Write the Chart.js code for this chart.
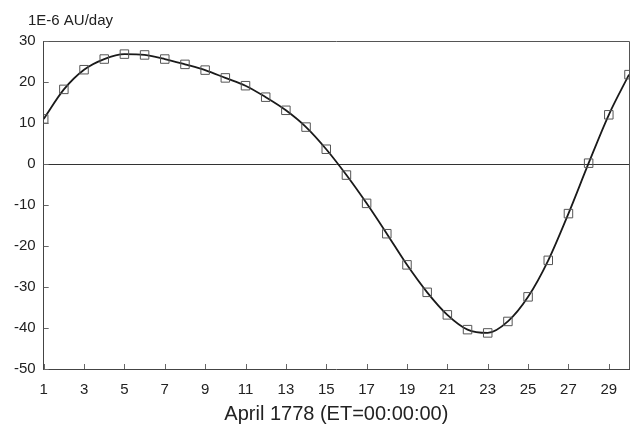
<!DOCTYPE html>
<html>
<head>
<meta charset="utf-8">
<script src="https://cdn.jsdelivr.net/npm/chart.js@4"></script>
<style>
  html, body { margin: 0; padding: 0; background: #ffffff; }
  #wrap { width: 642px; height: 427px; position: relative; }
</style>
</head>
<body>
<div id="wrap"><canvas id="c"></canvas></div>
<script>
// ---- data ----
const days = [1,2,3,4,5,6,7,8,9,10,11,12,13,14,15,16,17,18,19,20,21,22,23,24,25,26,27,28,29,30];
const velocity = [11.0,18.2,23.0,25.6,26.8,26.6,25.6,24.3,22.9,21.0,19.1,16.3,13.1,9.0,3.6,-2.7,-9.6,-17.0,-24.6,-31.3,-36.8,-40.4,-41.2,-38.4,-32.4,-23.5,-12.1,0.2,12.0,21.8];
const xTickValues = [1,3,5,7,9,11,13,15,17,19,21,23,25,27,29];
const yTickValues = [-50,-40,-30,-20,-10,0,10,20,30];
const unitLabel = '1E-6 AU/day';
const xAxisTitle = 'April 1778 (ET=00:00:00)';

const FONT = '"Liberation Sans", Arial, Helvetica, sans-serif';

const decorPlugin = {
  id: 'decor',
  afterDraw(chart) {
    const {ctx, chartArea: a, scales} = chart;
    ctx.save();
    // frame top and right
    ctx.strokeStyle = '#555';
    ctx.lineWidth = 1;
    ctx.beginPath();
    ctx.moveTo(a.left, a.top + 0.5);
    ctx.lineTo(a.right + 0.5, a.top + 0.5);
    ctx.lineTo(a.right + 0.5, a.bottom);
    ctx.stroke();
    // inward tick marks
    ctx.strokeStyle = '#666';
    ctx.beginPath();
    scales.x.ticks.forEach(t => {
      const px = Math.round(scales.x.getPixelForValue(t.value)) + 0.5;
      ctx.moveTo(px, a.bottom);
      ctx.lineTo(px, a.bottom - 5);
    });
    scales.y.ticks.forEach(t => {
      const py = Math.round(scales.y.getPixelForValue(t.value)) + 0.5;
      ctx.moveTo(a.left, py);
      ctx.lineTo(a.left + 5, py);
    });
    ctx.stroke();
    // unit label
    ctx.fillStyle = '#222';
    ctx.font = '15px ' + FONT;
    ctx.textBaseline = 'middle';
    ctx.textAlign = 'left';
    ctx.fillText(unitLabel, 28, 21);
    ctx.restore();
  }
};

new Chart(document.getElementById('c'), {
  type: 'line',
  data: {
    datasets: [{
      data: days.map((d, i) => ({x: d, y: velocity[i]})),
      borderColor: '#1a1a1a',
      borderWidth: 1.8,
      cubicInterpolationMode: 'monotone',
      pointStyle: 'rect',
      pointRadius: 6,
      pointBorderWidth: 1,
      pointBorderColor: '#555',
      pointBackgroundColor: 'rgba(0,0,0,0)',
      fill: false
    }]
  },
  options: {
    responsive: true,
    maintainAspectRatio: false,
    animation: false,
    layout: { padding: { left: 6, right: 13, top: 41, bottom: 0 } },
    plugins: { legend: { display: false }, tooltip: { enabled: false }, title: { display: false } },
    scales: {
      x: {
        type: 'linear',
        min: 1,
        max: 30,
        afterBuildTicks: axis => { axis.ticks = xTickValues.map(v => ({value: v})); },
        grid: { display: false, drawTicks: false },
        border: { display: true, color: '#444', width: 1 },
        ticks: { color: '#222', font: { family: FONT, size: 15 }, padding: 12, maxRotation: 0, autoSkip: false },
        title: { display: true, text: xAxisTitle, color: '#222', font: { family: FONT, size: 20 }, padding: { top: -9, bottom: 1 } }
      },
      y: {
        min: -50,
        max: 30,
        afterBuildTicks: axis => { axis.ticks = yTickValues.map(v => ({value: v})); },
        grid: {
          drawTicks: false,
          color: c => (c.tick && c.tick.value === 0) ? '#333' : 'rgba(0,0,0,0)',
          lineWidth: 1
        },
        border: { display: true, color: '#444', width: 1 },
        ticks: { color: '#222', font: { family: FONT, size: 15 }, padding: 8 }
      }
    }
  },
  plugins: [decorPlugin]
});
</script>
</body>
</html>
